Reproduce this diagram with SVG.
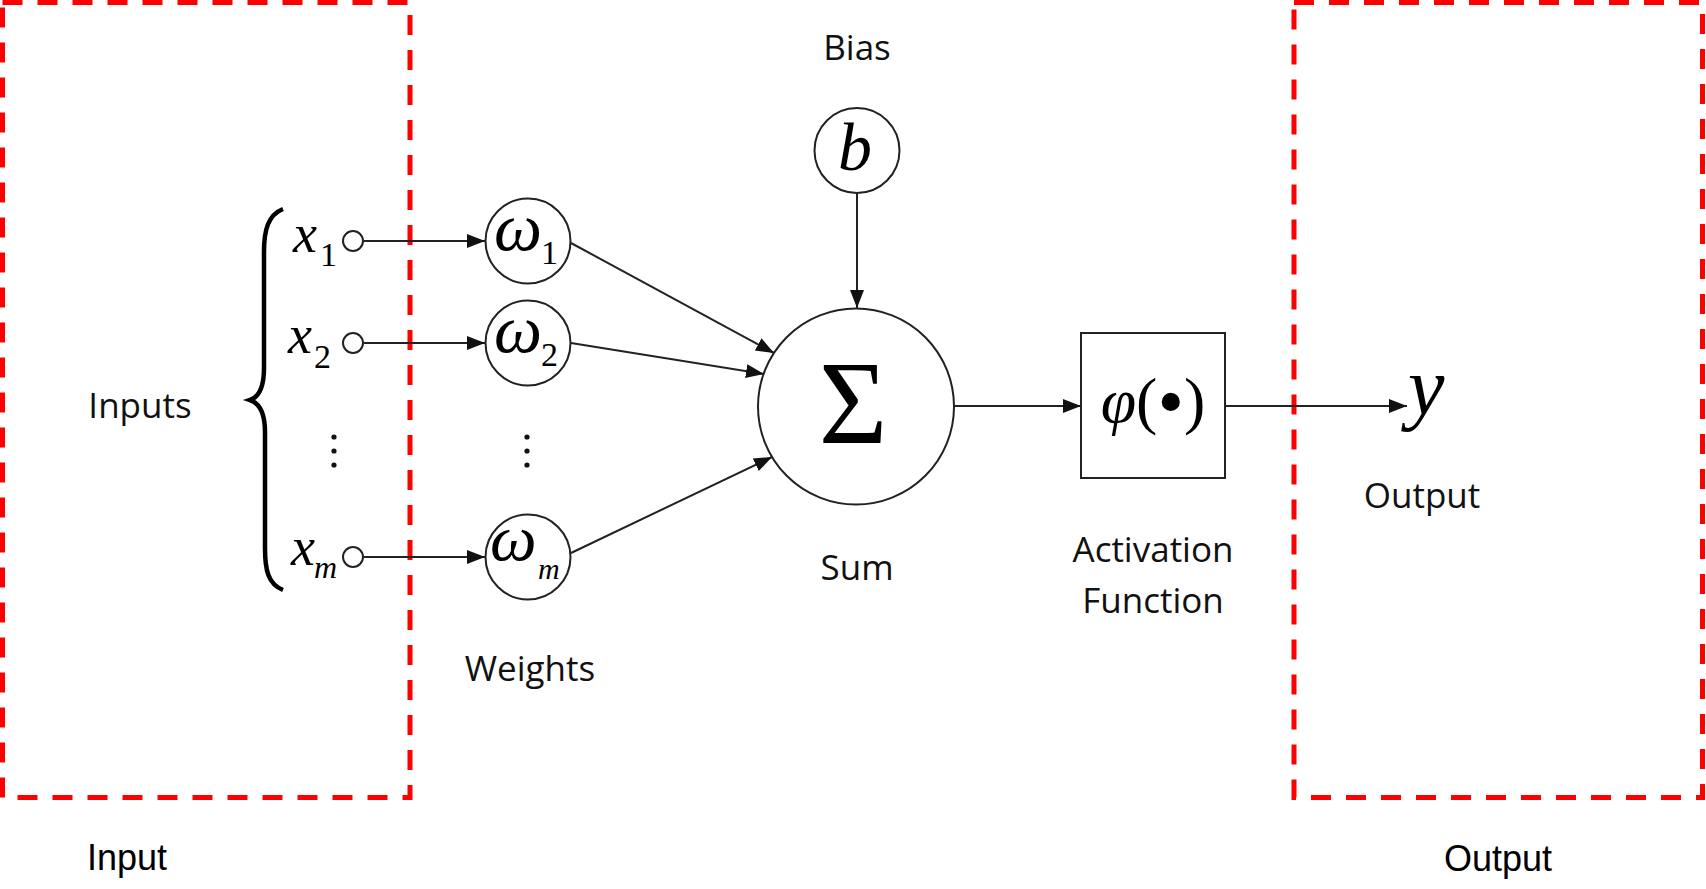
<svg xmlns="http://www.w3.org/2000/svg" width="1706" height="889" viewBox="0 0 1706 889">
<defs>
<style>
.lbl{font-family:"Open Sans","Noto Sans",sans-serif;font-size:35px;fill:#111;text-anchor:middle}
.big{font-family:"Liberation Sans",Arial,sans-serif;font-size:36px;fill:#000;text-anchor:middle}
.math{font-family:"Liberation Serif","Times New Roman",serif;fill:#000}
.it{font-style:italic}
.node{fill:#fff;stroke:#222;stroke-width:2}
.conn{stroke:#222;stroke-width:2;fill:none}
.zone{fill:none;stroke:#ff0000;stroke-width:5;stroke-dasharray:20 15}
.dot{fill:#111}
</style>
<marker id="arr" markerUnits="userSpaceOnUse" markerWidth="20" markerHeight="16" refX="18" refY="7" orient="auto">
<path d="M0,0 L18,7 L0,14 z" fill="#111"/>
</marker>
</defs>
<rect width="1706" height="889" fill="#fff"/>

<g id="zones">
<rect class="zone" x="2.5" y="2.5" width="407.5" height="795"/>
<rect class="zone" x="1294" y="2.5" width="408.5" height="795"/>
</g>

<g id="connectors">
<line class="conn" x1="364" y1="241" x2="485" y2="241" marker-end="url(#arr)"/>
<line class="conn" x1="364" y1="343" x2="485" y2="343" marker-end="url(#arr)"/>
<line class="conn" x1="364" y1="557" x2="485" y2="557" marker-end="url(#arr)"/>
<line class="conn" x1="571" y1="243" x2="774" y2="353" marker-end="url(#arr)"/>
<line class="conn" x1="571" y1="343" x2="764" y2="374" marker-end="url(#arr)"/>
<line class="conn" x1="571" y1="553" x2="772" y2="457" marker-end="url(#arr)"/>
<line class="conn" x1="857" y1="193" x2="857" y2="308" marker-end="url(#arr)"/>
<line class="conn" x1="954" y1="406" x2="1081" y2="406" marker-end="url(#arr)"/>
<line class="conn" x1="1225" y1="406" x2="1407" y2="406" marker-end="url(#arr)"/>
</g>

<g id="inputs">
<path d="M283 209 C268 215 264 230 264 252 L264 368 C264 388 259 397 250 400 C259 403 265 412 265 432 L265 548 C265 570 268 584 283 590" fill="none" stroke="#000" stroke-width="4.5"/>
<text class="lbl" x="140" y="418">Inputs</text>
<text class="math it" x="293" y="252" font-size="54">x</text>
<text class="math" x="320" y="266" font-size="34">1</text>
<circle class="node" cx="353" cy="241" r="10"/>
<text class="math it" x="288" y="353" font-size="54">x</text>
<text class="math" x="314" y="368" font-size="34">2</text>
<circle class="node" cx="353" cy="343" r="10"/>
<circle class="dot" cx="334" cy="437" r="2.6"/>
<circle class="dot" cx="334" cy="451" r="2.6"/>
<circle class="dot" cx="334" cy="465" r="2.6"/>
<text class="math it" x="291" y="565" font-size="54">x</text>
<text class="math it" x="314" y="578" font-size="32">m</text>
<circle class="node" cx="353" cy="557" r="10"/>
</g>

<g id="weights">
<circle class="node" cx="528" cy="241" r="42.5"/>
<text class="math it" x="494" y="250" font-size="68">ω</text>
<text class="math" x="541" y="264" font-size="34">1</text>
<circle class="node" cx="528" cy="343" r="42.5"/>
<text class="math it" x="494" y="352" font-size="68">ω</text>
<text class="math" x="541" y="366" font-size="34">2</text>
<circle class="dot" cx="527" cy="437" r="2.6"/>
<circle class="dot" cx="527" cy="451" r="2.6"/>
<circle class="dot" cx="527" cy="465" r="2.6"/>
<circle class="node" cx="528" cy="557" r="42.5"/>
<text class="math it" x="490" y="560" font-size="66">ω</text>
<text class="math it" x="538" y="579" font-size="30">m</text>
<text class="lbl" x="530" y="681">Weights</text>
</g>

<g id="bias">
<text class="lbl" x="857" y="60">Bias</text>
<circle class="node" cx="857" cy="150.5" r="42.5"/>
<text class="math it" x="855" y="170" font-size="68" text-anchor="middle">b</text>
</g>

<g id="sum">
<circle class="node" cx="856" cy="406.5" r="98"/>
<text class="math" x="853" y="443" font-size="118" text-anchor="middle">Σ</text>
<text class="lbl" x="857" y="580">Sum</text>
</g>

<g id="activation">
<rect class="node" x="1081" y="333" width="144" height="145"/>
<text class="math" x="1153" y="422" font-size="64" text-anchor="middle"><tspan class="it">φ</tspan>(<tspan font-size="76" dy="5">•</tspan><tspan dy="-5">)</tspan></text>
<text class="lbl" x="1153" y="562">Activation</text>
<text class="lbl" x="1153" y="613">Function</text>
</g>

<g id="output">
<text class="math it" x="1408" y="414" font-size="82">y</text>
<text class="lbl" x="1422" y="508">Output</text>
</g>

<g id="zone-labels">
<text class="big" x="127" y="870">Input</text>
<text class="big" x="1498" y="871">Output</text>
</g>
</svg>
